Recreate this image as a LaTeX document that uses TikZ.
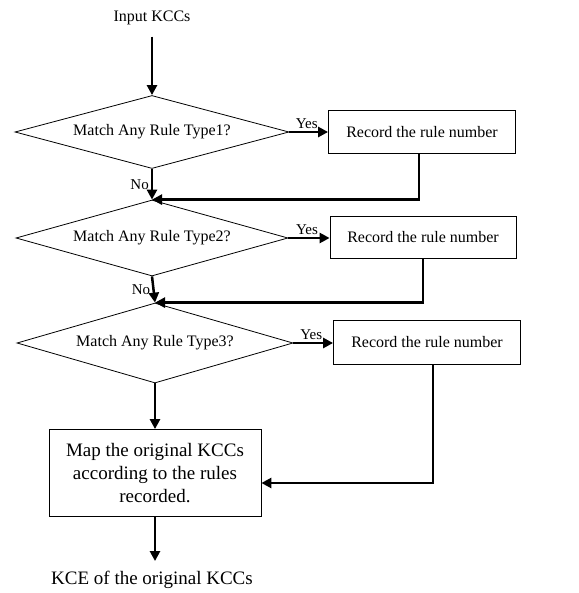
\documentclass[tikz,border=0pt]{standalone}
\usepackage{fontspec}
\setmainfont{Liberation Serif}
\usetikzlibrary{shapes,arrows.meta,positioning,calc}

\begin{document}
\begin{tikzpicture}[x=1pt,y=-1pt,>={Triangle[length=10pt,width=10pt]},
  test/.style={draw,diamond,aspect=3.75,line width=0.8pt,inner sep=0pt,font=\fontsize{16}{19}\selectfont},
  rec/.style={draw,rectangle,line width=0.8pt,inner sep=0pt,minimum width=187pt,minimum height=43pt,font=\fontsize{16}{19}\selectfont},
  flow/.style={->,line width=2.5pt},
  lbl/.style={font=\fontsize{15}{18}\selectfont,inner sep=2pt}]
\useasboundingbox (0,0) rectangle (578,593);
\node[font=\fontsize{16}{19}\selectfont] (in) at (152,18) {Input KCCs};
\node[test,minimum width=274pt,minimum height=73pt] (t1) at (152,132) {Match Any Rule Type1?};
\node[test,minimum width=272pt,minimum height=76pt] (t2) at (152,238) {Match Any Rule Type2?};
\node[test,minimum width=276pt,minimum height=80pt] (t3) at (155,343) {Match Any Rule Type3?};
\node[rec] (b1) at (422,132) {Record the rule number};
\node[rec,minimum width=186pt,minimum height=42pt] (b2) at (423,237) {Record the rule number};
\node[rec,minimum height=44pt] (b3) at (427,342) {Record the rule number};
\node[rec,minimum width=212pt,minimum height=87pt,align=center,font=\fontsize{19}{23}\selectfont] (b4) at (155,473)
  {Map the original KCCs\\according to the rules\\recorded.};
\node[font=\fontsize{19}{23}\selectfont,inner sep=2pt] (out) at (152,580) {KCE of the original KCCs};
% main line
\draw[flow,shorten <=8pt] (in.south) -- (t1.north);
\draw[flow] (t1.south) -- node[lbl,left]{No} (t2.north);
\draw[flow] (t2.south) -- node[lbl,left]{No} (t3.north);
\draw[flow] (t3.south) -- (b4.north);
\draw[flow,shorten >=8pt] (b4.south) -- (b4.south |- out.north);
% yes branches
\draw[flow] (t1.east) -- node[lbl,above,pos=0.45]{Yes} (t1.east -| b1.west);
\draw[flow] (t2.east) -- node[lbl,above,pos=0.45]{Yes} (t2.east -| b2.west);
\draw[flow] (t3.east) -- node[lbl,above,pos=0.45]{Yes} (t3.east -| b3.west);
\draw[flow] ([xshift=-3pt]b1.south) |- (t2.north);
\draw[flow] (b2.south) |- (t3.north);
\draw[flow] ([xshift=6pt]b3.south) |- ([yshift=-10pt]b4.east);
\end{tikzpicture}
\end{document}
